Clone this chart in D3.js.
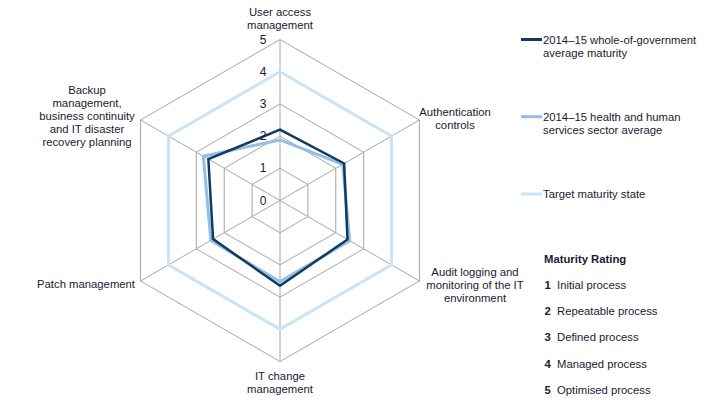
<!DOCTYPE html>
<html><head><meta charset="utf-8">
<script src="https://cdn.jsdelivr.net/npm/d3@7"></script>
<style>body{margin:0;background:#fff}svg text{font-family:"Liberation Sans",Arial,sans-serif;font-size:11.3px;fill:#1a1a33}</style>
</head><body><svg id="c" width="715" height="408"></svg>
<script>
const categories = [
  ["User access","management"],
  ["Authentication","controls"],
  ["Audit logging and","monitoring of the IT","environment"],
  ["IT change","management"],
  ["Patch management"],
  ["Backup","management,","business continuity","and IT disaster","recovery planning"]
];
const wholeOfGov = [2.2, 2.3, 2.42, 2.65, 2.4, 2.57];
const healthSector = [1.88, 2.25, 2.5, 2.52, 2.48, 2.75];
const target = [4, 4, 4, 4, 4, 4];
const scaleTicks = [0, 1, 2, 3, 4, 5];
const seriesNames = [["2014–15 whole-of-government","average maturity"],["2014–15 health and human","services sector average"],["Target maturity state"]];
const ratingLabels = ["Initial process","Repeatable process","Defined process","Managed process","Optimised process"];

const svg = d3.select("#c");
const cx = 280, cy = 200.5;
const r = d3.scaleLinear().domain([0,5]).range([0,161]);
const n = categories.length;
const ang = i => -Math.PI/2 + i*2*Math.PI/n;
const pt = (i,v) => [cx + r(v)*Math.cos(ang(i)), cy + r(v)*Math.sin(ang(i))];

const g = svg.append("g");
scaleTicks.slice(1).forEach(t=>{
  g.append("polygon").attr("points", d3.range(n).map(i=>pt(i,t).join(",")).join(" "))
   .attr("fill","none").attr("stroke","#a6a6a6").attr("stroke-width",1);
});
d3.range(n).forEach(i=>{
  const [x,y]=pt(i,5);
  g.append("line").attr("x1",cx).attr("y1",cy).attr("x2",x).attr("y2",y).attr("stroke","#a6a6a6");
});

const line = d3.line().curve(d3.curveLinearClosed);
const series = [
  {vals: target, color:"#c9e4f7", w:3},
  {vals: healthSector, color:"#92bfe3", w:3},
  {vals: wholeOfGov, color:"#0f3a62", w:2.5}
];
series.forEach(s=>{
  g.append("path").attr("d", line(s.vals.map((v,i)=>pt(i,v))))
   .attr("fill","none").attr("stroke",s.color).attr("stroke-width",s.w).attr("stroke-linejoin","miter");
});

scaleTicks.forEach(t=>{
  g.append("text").attr("x",263).attr("y",cy - r(t)+4).attr("text-anchor","middle").style("font-size","12px").text(t);
});

const labelPos = [
  {x:280,y:16,a:"middle"},
  {x:455,y:116,a:"middle"},
  {x:475,y:276,a:"middle"},
  {x:280,y:380,a:"middle"},
  {x:135,y:288,a:"end"},
  {x:87,y:94,a:"middle"}
];
categories.forEach((c,i)=>{
  const p = labelPos[i];
  const t = g.append("text").attr("x",p.x).attr("y",p.y).attr("text-anchor",p.a);
  c.forEach((l,j)=>t.append("tspan").attr("x",p.x).attr("dy",j?13:0).text(l));
});

const legY = [39.5, 116.7, 194];
const legColors = ["#0f3a62","#92bfe3","#c9e4f7"];
seriesNames.forEach((nm,i)=>{
  svg.append("line").attr("x1",521).attr("x2",542).attr("y1",legY[i]).attr("y2",legY[i])
    .attr("stroke",legColors[i]).attr("stroke-width",3);
  const t = svg.append("text").attr("x",543).attr("y",legY[i]+4);
  nm.forEach((l,j)=>t.append("tspan").attr("x",543).attr("dy",j?13.4:0).text(l));
});

svg.append("text").attr("x",544).attr("y",263).attr("font-weight","bold").text("Maturity Rating");
ratingLabels.forEach((l,i)=>{
  const y = 289 + i*26.2;
  svg.append("text").attr("x",544.5).attr("y",y).attr("font-weight","bold").text(i+1);
  svg.append("text").attr("x",557).attr("y",y).text(l);
});
</script></body></html>
